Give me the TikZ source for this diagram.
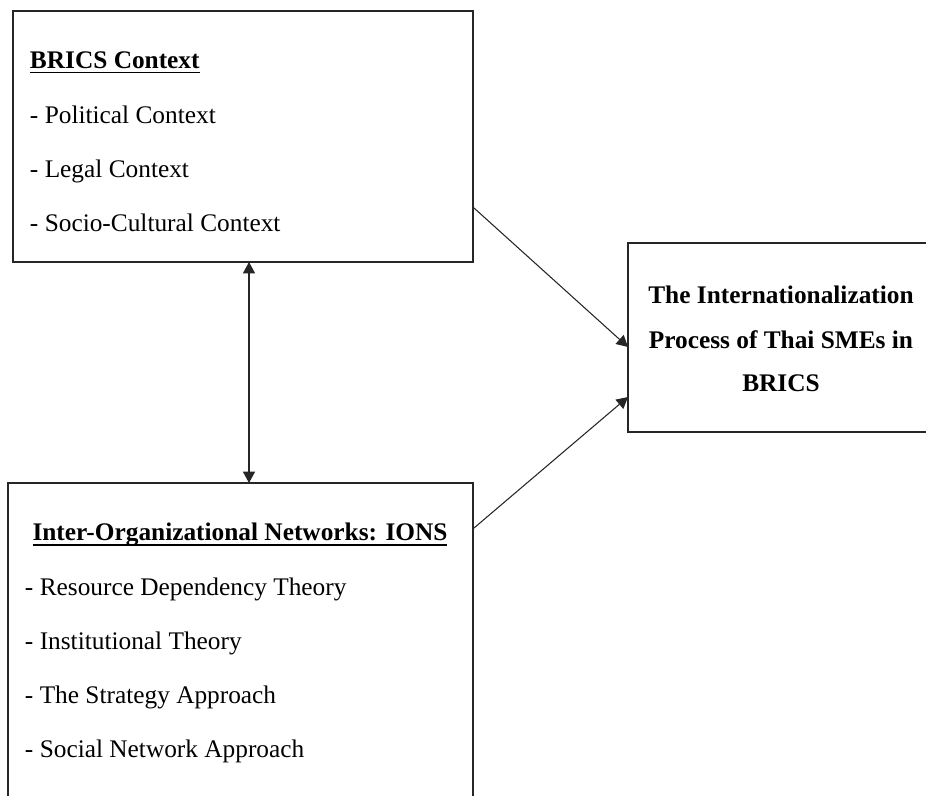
\documentclass[tikz,border=0pt]{standalone}
\usepackage{fontspec}
\setmainfont{Liberation Serif}
\usetikzlibrary{arrows.meta,calc}
\begin{document}
\begin{tikzpicture}[x=0.75pt,y=-0.75pt,
  box/.style={draw=black!85,line width=0.9pt,inner sep=0,outer sep=0},
  txt/.style={inner sep=0,outer sep=0,anchor=base west,font=\fontsize{19}{23}\selectfont},
  headtxt/.style={inner sep=0,outer sep=0,font=\fontsize{19}{23}\selectfont\bfseries},
  tip/.style={Triangle[length=8.5pt,width=9pt]},
  conn/.style={draw=black!85,line width=0.8pt,-{Triangle[length=8.5pt,width=9pt]}},
  biconn/.style={draw=black!85,line width=0.8pt,{Triangle[length=8.5pt,width=9pt]}-{Triangle[length=8.5pt,width=9pt]}},
  uline/.style={draw=black,line width=1.4pt}]
\useasboundingbox (0,0) rectangle (926,796);
\clip (0,0) rectangle (926,796);
% boxes
\node[box,minimum width=345pt,minimum height=188.25pt] (ctx) at (243,136.5) {};
\node[box,minimum width=225pt,minimum height=141.75pt] (proc) at (778,337.5) {};
\node[box,minimum width=348.75pt,minimum height=245.25pt] (ions) at (240.5,646.5) {};
% top box text
\node[headtxt,anchor=base west] (h1) at (30,68) {BRICS Context};
\draw[uline] ($(h1.base west)+(0,4.5)$) -- ($(h1.base east)+(0,4.5)$);
\node[txt] (c1) at (30,123) {- Political Context};
\node[txt] (c2) at (30,177) {- Legal Context};
\node[txt] (c3) at (30,231) {- Socio-Cultural Context};
% right box text
\node[headtxt,anchor=base] (p1) at (781,303) {The Internationalization};
\node[headtxt,anchor=base] (p2) at (781,348) {Process of Thai SMEs in};
\node[headtxt,anchor=base] (p3) at (781,391) {BRICS};
% bottom box text
\node[headtxt,anchor=base] (h2) at (240,540) {Inter-Organizational Networks: IONS};
\draw[uline] ($(h2.base west)+(0,5)$) -- ($(h2.base east)+(0,5)$);
\node[txt] (i1) at (25,595) {- Resource Dependency Theory};
\node[txt] (i2) at (25,649) {- Institutional Theory};
\node[txt] (i3) at (25,703) {- The Strategy Approach};
\node[txt] (i4) at (25,757) {- Social Network Approach};
% connectors
\coordinate (a1) at ($(ctx.south east)+(1,-54)$);
\coordinate (t1) at ($(proc.west)+(0,9.5)$);
\coordinate (a2) at ($(ions.north east)+(1,45)$);
\coordinate (t2) at ($(proc.west)+(0,59.5)$);
\draw[conn] (a1) -- (t1);
\draw[conn] (a2) -- (t2);
\draw[biconn] ($(ctx.south)+(6,0)$) -- ($(ions.north)+(8.5,0)$);
\end{tikzpicture}
\end{document}
